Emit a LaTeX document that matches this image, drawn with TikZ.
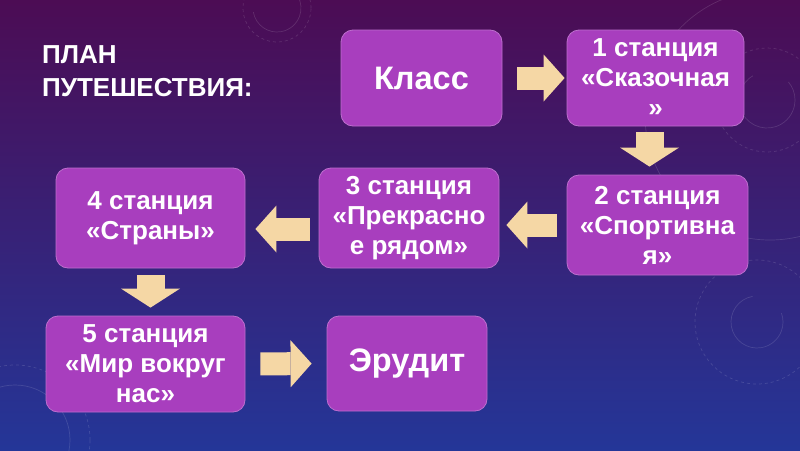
\documentclass[tikz,border=0pt]{standalone}
\usepackage{fontspec}
\setmainfont{Liberation Sans}
\usetikzlibrary{arrows.meta}
\definecolor{bgtop}{RGB}{76,12,84}
\definecolor{bgmid}{RGB}{56,28,112}
\definecolor{bgbot}{RGB}{36,54,152}
\definecolor{stationc}{RGB}{168,62,190}
\definecolor{arrowc}{RGB}{245,215,165}
\tikzset{
  station/.style={rectangle, rounded corners=12pt, fill=stationc, draw=stationc!75!white,
                  line width=0.8pt, text=white, align=center, inner sep=2pt,
                  font=\fontsize{26}{30}\selectfont\bfseries},
  bigstation/.style={station, font=\fontsize{32.5}{36}\selectfont\bfseries},
  flow/.style={draw=arrowc, line width=23pt,
               -{Triangle[width=47pt,length=21pt,line width=0pt]}},
  flowdown/.style={draw=arrowc, line width=28pt,
               -{Triangle[width=59pt,length=19pt,line width=0pt]}},
  title/.style={text=white, font=\fontsize{26}{33}\selectfont\bfseries, align=left,
                inner sep=0pt, anchor=north west},
  deco/.style={draw=white, opacity=0.13, line width=0.7pt},
  decodash/.style={deco, dashed}
}

\begin{document}
\begin{tikzpicture}[x=1pt, y=-1pt]
\useasboundingbox (0,0) rectangle (800,450);
\shade[top color=bgtop, middle color=bgmid, bottom color=bgbot] (0,0) rectangle (800,450);
% faint circles in the background
\draw[deco] (277,8) ++(190:24pt) arc[start angle=190, end angle=390, radius=24pt];
\draw[decodash] (277,8) circle[radius=34pt];
\draw[deco] (767,100) ++(120:28pt) arc[start angle=120, end angle=400, radius=28pt];
\draw[decodash] (767,100) circle[radius=52pt];
\draw[deco] (770,115) circle[radius=125pt];
\draw[deco] (757,322) ++(100:26pt) arc[start angle=100, end angle=380, radius=26pt];
\draw[decodash] (757,322) circle[radius=62pt];
\draw[deco] (15,440) circle[radius=55pt];
\draw[decodash] (15,440) circle[radius=75pt];

\node[title] (plan) at (42,45) {ПЛАН\\ПУТЕШЕСТВИЯ:};

\node[bigstation, minimum width=161pt, minimum height=96pt] (klass) at (421.5,78) {Класс};
\node[station, minimum width=177pt, minimum height=96pt] (st1) at (655.5,78) {1 станция\\«Сказочная\\»};
\node[station, minimum width=181pt, minimum height=100pt] (st2) at (657.5,225) {2 станция\\«Спортивна\\я»};
\node[station, minimum width=180pt, minimum height=100pt] (st3) at (409,218) {3 станция\\«Прекрасно\\е рядом»};
\node[station, minimum width=189pt, minimum height=100pt] (st4) at (150.5,218) {4 станция\\«Страны»};
\node[station, minimum width=199pt, minimum height=96pt] (st5) at (145.5,364) {5 станция\\«Мир вокруг\\нас»};
\node[bigstation, minimum width=160pt, minimum height=95pt] (erudit) at (407,363.5) {Эрудит};

\draw[flow, shorten <=15pt, shorten >=2pt] (klass.east) -- (st1.west);
\draw[flowdown, shorten <=6pt, shorten >=8pt] ([xshift=-6pt]st1.south) -- ([xshift=-6pt]st1.south |- st2.north);
\draw[flow, shorten <=10pt, shorten >=7pt] (st2.west) -- (st2.west -| st3.east);
\draw[flow, shorten <=9pt, shorten >=10pt] ([yshift=-11pt]st3.west) -- ([yshift=-11pt]st4.east);
\draw[flowdown, shorten <=7pt, shorten >=8pt] (st4.south) -- (st4.south |- st5.north);
\draw[flow, shorten <=15pt, shorten >=15pt] (st5.east) -- (erudit.west);
\end{tikzpicture}
\end{document}
